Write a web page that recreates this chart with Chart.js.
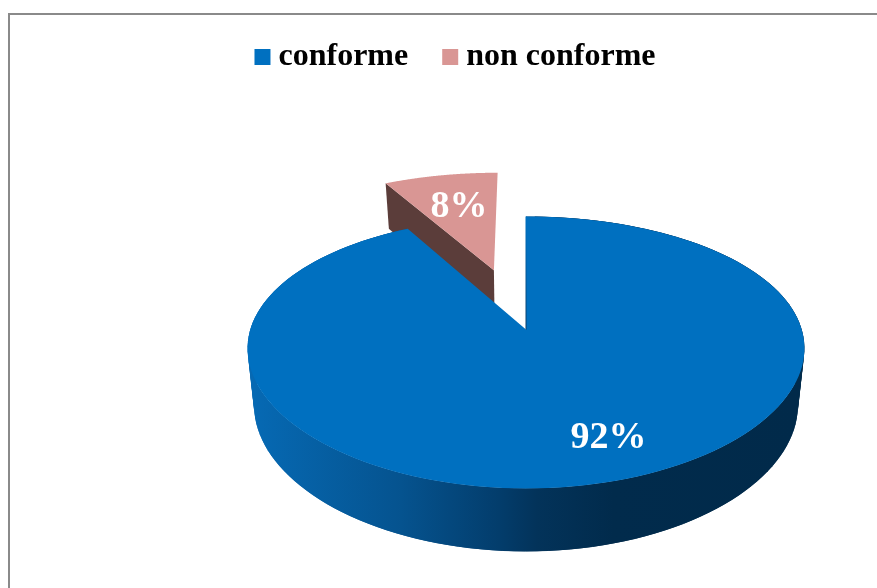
<!DOCTYPE html>
<html>
<head>
<meta charset="utf-8">
<style>
html, body { margin: 0; padding: 0; background: #fff; overflow: hidden; }
#wrap { position: relative; width: 877px; height: 588px; }
#frame { position: absolute; left: 8px; top: 13px; width: 869px; height: 575px; box-sizing: border-box;
         border-left: 2px solid #8a8a8a; border-top: 2px solid #8a8a8a; }
canvas { position: absolute; left: 0; top: 0; }
</style>
</head>
<body>
<div id="wrap">
  <div id="frame"></div>
  <canvas id="camembert" width="877" height="588"></canvas>
</div>
<script src="https://cdn.jsdelivr.net/npm/chart.js@4/dist/chart.umd.min.js"></script>
<script>
var categories = ["conforme", "non conforme"];
var percents = [92, 8];
var colors = ["#0070c0", "#d99694"];

// disc drawn in perspective: u,v are coordinates on the unit disc, z=0 top face, z=1 bottom face
var view = { cx: 526, y0: 329.5, A: 132.1, B: 275.7, ky: -0.169, kx: -0.14, shrink: 0.023, depthBack: 48, depthFront: 63 };
var explode = [0, 0.5];
var labelPos = [[608.5, 438], [459, 207]];

function project(u, v, z) {
    var s = 1 - view.shrink * z;
    var depth = (view.depthBack + view.depthFront) / 2 + v * (view.depthFront - view.depthBack) / 2;
    return {
        x: view.cx + view.B * u / (1 + view.kx * v) * s,
        y: view.y0 + view.A * v / (1 + view.ky * v) + z * depth
    };
}

function rim(arc, off, z) {
    var pts = [];
    var n = 160;
    for (var i = 0; i <= n; i++) {
        var a = arc.startAngle + (arc.endAngle - arc.startAngle) * i / n;
        pts.push(project(off.u + Math.cos(a), off.v + Math.sin(a), z));
    }
    return pts;
}

function offsetOf(arc, amount) {
    var mid = (arc.startAngle + arc.endAngle) / 2;
    return { u: Math.cos(mid) * amount, v: Math.sin(mid) * amount };
}

function tracePath(ctx, pts) {
    ctx.beginPath();
    pts.forEach(function (p, i) {
        if (i == 0) ctx.moveTo(p.x, p.y); else ctx.lineTo(p.x, p.y);
    });
    ctx.closePath();
}

var pie3d = {
    id: "pie3d",
    beforeDatasetsDraw: function (chart) {
        var ctx = chart.ctx;
        var arcs = chart.getDatasetMeta(0).data;
        ctx.save();

        // small slice first, the big one covers its lower part
        var pink = arcs[1];
        var offPink = offsetOf(pink, explode[1]);
        var pinkCentreTop = project(offPink.u, offPink.v, 0);
        var pinkCentreBot = project(offPink.u, offPink.v, 1);
        var pinkTop = rim(pink, offPink, 0);
        var pinkBot = rim(pink, offPink, 1);
        ctx.fillStyle = "#5b3d3a";
        tracePath(ctx, [pinkTop[0], pinkBot[0], pinkCentreBot, pinkCentreTop]);
        ctx.fill();
        tracePath(ctx, [pinkCentreTop].concat(pinkTop));
        ctx.fillStyle = colors[1];
        ctx.fill();

        // side of the big slice, overlapping strips so no seams show
        var blue = arcs[0];
        var offBlue = offsetOf(blue, explode[0]);
        var blueCentre = project(offBlue.u, offBlue.v, 0);
        var blueTop = rim(blue, offBlue, 0);
        var blueBot = rim(blue, offBlue, 1);
        var grad = ctx.createLinearGradient(254, 0, 798, 0);
        grad.addColorStop(0, "#0669b3");
        grad.addColorStop(0.27, "#05538f");
        grad.addColorStop(0.45, "#033d6c");
        grad.addColorStop(0.52, "#03335a");
        grad.addColorStop(0.66, "#012b4c");
        grad.addColorStop(1, "#012a4a");
        ctx.fillStyle = grad;
        for (var i = 0; i < blueTop.length - 2; i++) {
            tracePath(ctx, [blueTop[i], blueTop[i + 2], blueBot[i + 2], blueBot[i]]);
            ctx.fill();
        }

        tracePath(ctx, [blueCentre].concat(blueTop));
        ctx.fillStyle = colors[0];
        ctx.fill();

        // thin dark edge of the cut at twelve o'clock
        var edge = ctx.createLinearGradient(0, blueTop[0].y, 0, blueCentre.y);
        edge.addColorStop(0, "#0070c0");
        edge.addColorStop(1, "#0a3c66");
        ctx.strokeStyle = edge;
        ctx.lineWidth = 1;
        ctx.beginPath();
        ctx.moveTo(blueTop[0].x, blueTop[0].y);
        ctx.lineTo(blueCentre.x, blueCentre.y);
        ctx.stroke();

        ctx.fillStyle = "#ffffff";
        ctx.font = "bold 38px 'Liberation Serif'";
        ctx.textAlign = "center";
        ctx.textBaseline = "middle";
        percents.forEach(function (p, i) {
            ctx.fillText(p + "%", labelPos[i][0], labelPos[i][1]);
        });
        ctx.restore();
        return false;
    }
};

var ctx = document.getElementById("camembert").getContext("2d");
var chart = new Chart(ctx, {
    type: "pie",
    data: {
        labels: categories,
        datasets: [{ data: percents, backgroundColor: colors, borderWidth: 0 }]
    },
    options: {
        responsive: false,
        animation: false,
        layout: { padding: { left: 41, top: -1 } },
        plugins: {
            tooltip: { enabled: false },
            legend: {
                position: "top",
                labels: {
                    usePointStyle: true,
                    pointStyle: "rect",
                    boxWidth: 0.01,
                    boxHeight: 16,
                    padding: 42,
                    color: "#000000",
                    font: { family: "'Liberation Serif'", size: 32, weight: "bold" }
                }
            }
        }
    },
    plugins: [pie3d]
});
</script>
</body>
</html>
